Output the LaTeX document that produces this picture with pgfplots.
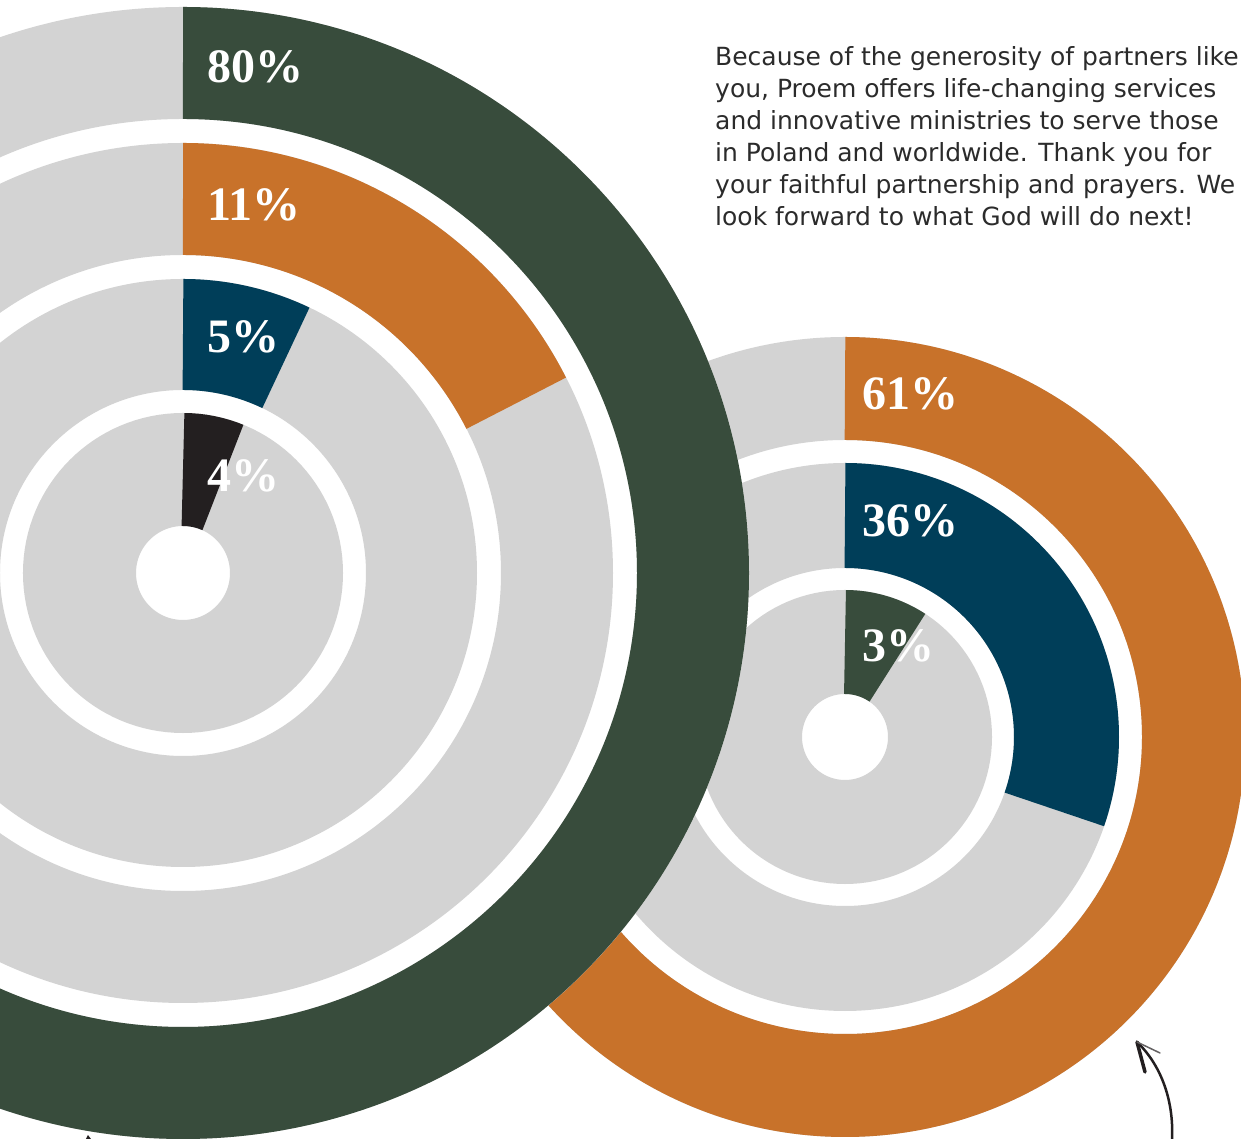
\documentclass[border=0pt]{standalone}
\usepackage{pgfplots}
\pgfplotsset{compat=1.18}
\usepackage{fontspec}
\setmainfont{DejaVu Sans}
\newfontfamily\numfont{Liberation Serif}
\definecolor{cgreen}{HTML}{384C3C}
\definecolor{corange}{HTML}{C8722A}
\definecolor{cnavy}{HTML}{003E59}
\definecolor{cdark}{HTML}{231F20}
\definecolor{cgray}{HTML}{D3D3D3}
\definecolor{ctext}{HTML}{2B2B2B}
% ring: cx cy rmid width drawn-sweep(percent) colour
\newcommand{\grayring}[4]{\draw[line width=#4bp, cgray] (axis cs:#1,#2) circle[radius=#3bp];}
\newcommand{\ringseg}[6]{\draw[line width=#4bp, #6] (axis cs:#1,#2) ++(90:#3bp) arc[start angle=90, delta angle={-3.6*#5}, radius=#3bp];}
\newcommand{\lbl}[3]{\node[anchor=base west, inner sep=0pt, text=white, font=\numfont\bfseries\fontsize{48bp}{48bp}\selectfont] at (axis cs:#1,#2) {#3\%};}
\newcommand{\txt}[2]{\node[anchor=base west, inner sep=0pt, text=ctext, font=\fontsize{25bp}{32bp}\selectfont] at (axis cs:715,#1) {#2};}
\begin{document}
\begin{tikzpicture}
\useasboundingbox (0,0) rectangle (1241bp,1139bp);
\clip (0,0) rectangle (1241bp,1139bp);
\begin{axis}[at={(0,0)}, anchor=south west, scale only axis, width=1241bp, height=1139bp,
  xmin=0, xmax=1241, ymin=0, ymax=1139, hide axis, clip=false]
% ---------- right chart (centre 845,402) ----------
\grayring{845}{402}{348.5}{103}
\grayring{845}{402}{221.5}{105}
\grayring{845}{402}{95}{104}
\ringseg{845}{402}{348.5}{103}{66}{corange}   % 61%
\ringseg{845}{402}{221.5}{105}{30.3}{cnavy}   % 36%
\ringseg{845}{402}{95}{104}{9.3}{cgreen}      % 3%
% ---------- left chart (centre 183,566) ----------
\fill[white] (axis cs:183,566) circle[radius=566bp];
\grayring{183}{566}{510}{112}
\grayring{183}{566}{374}{112}
\grayring{183}{566}{238.5}{111}
\grayring{183}{566}{103.5}{113}
\ringseg{183}{566}{510}{112}{80}{cgreen}      % 80%
\ringseg{183}{566}{374}{112}{17.5}{corange}   % 11%
\ringseg{183}{566}{238.5}{111}{7.1}{cnavy}    % 5%
\ringseg{183}{566}{103.5}{113}{6.3}{cdark}    % 4%
% ---------- labels ----------
\lbl{207}{1056}{80}
\lbl{207}{918}{11}
\lbl{207}{786}{5}
\lbl{207}{647}{4}
\lbl{862}{729}{61}
\lbl{862}{602}{36}
\lbl{862}{477}{3}
% ---------- text ----------
\txt{1073}{Because of the generosity of partners like}
\txt{1041}{you, Proem offers life-changing services}
\txt{1009}{and innovative ministries to serve those}
\txt{977}{in Poland and worldwide. Thank you for}
\txt{945}{your faithful partnership and prayers. We}
\txt{913}{look forward to what God will do next!}
% ---------- hand-drawn arrows ----------
\draw[line width=2.5bp, cdark, line cap=round] (axis cs:1172,0) .. controls (axis cs:1174,40) and (axis cs:1160,75) .. (axis cs:1137,97);
\draw[line width=3.5bp, cdark, line cap=round] (axis cs:1137,97) -- (axis cs:1145,67);
\draw[line width=1.5bp, cdark!70, line cap=round] (axis cs:1137,97) -- (axis cs:1160,86);
\fill[cdark] (axis cs:86,0) -- (axis cs:88,4) -- (axis cs:91,0) -- cycle;
\end{axis}
\end{tikzpicture}
\end{document}
